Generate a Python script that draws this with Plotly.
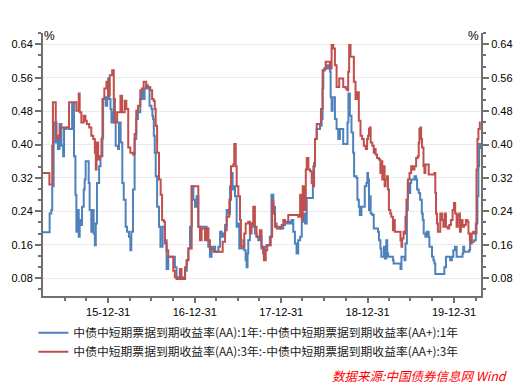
import plotly.graph_objects as go

# ---------------- data ----------------
blue_dates = [
    "2015-03-31", "2015-04-25", "2015-04-28", "2015-05-05", "2015-05-09", "2015-05-15", "2015-05-24",
    "2015-05-28", "2015-06-02", "2015-06-09", "2015-06-17", "2015-06-24", "2015-06-28", "2015-07-08",
    "2015-07-19", "2015-07-26", "2015-08-01", "2015-08-07", "2015-08-09", "2015-08-15", "2015-08-19",
    "2015-08-23", "2015-08-29", "2015-09-02", "2015-09-06", "2015-09-12", "2015-09-19", "2015-09-23",
    "2015-09-27", "2015-10-07", "2015-10-10", "2015-10-14", "2015-10-21", "2015-10-26", "2015-10-31",
    "2015-11-05", "2015-11-09", "2015-11-14", "2015-11-23", "2015-11-29", "2015-12-07", "2015-12-10",
    "2015-12-17", "2015-12-21", "2015-12-27", "2015-12-31", "2016-01-04", "2016-01-10", "2016-01-14",
    "2016-01-21", "2016-01-24", "2016-01-28", "2016-02-01", "2016-02-11", "2016-02-15", "2016-02-22",
    "2016-02-29", "2016-03-06", "2016-03-14", "2016-03-20", "2016-03-28", "2016-04-03", "2016-04-07",
    "2016-04-14", "2016-04-21", "2016-04-28", "2016-05-05", "2016-05-15", "2016-05-22", "2016-05-26",
    "2016-06-02", "2016-06-09", "2016-06-16", "2016-06-23", "2016-07-01", "2016-07-05", "2016-07-08",
    "2016-07-11", "2016-07-15", "2016-07-19", "2016-07-25", "2016-08-02", "2016-08-08", "2016-08-17",
    "2016-08-27", "2016-09-03", "2016-09-10", "2016-09-24", "2016-10-08", "2016-10-15", "2016-11-13",
    "2016-11-20", "2016-11-27", "2016-12-04", "2016-12-11", "2016-12-18", "2016-12-25", "2017-01-01",
    "2017-01-08", "2017-01-15", "2017-02-19", "2017-02-26", "2017-03-05", "2017-03-12", "2017-03-27",
    "2017-04-10", "2017-04-17", "2017-04-24", "2017-05-01", "2017-05-08", "2017-05-15", "2017-05-22",
    "2017-05-29", "2017-06-02", "2017-06-09", "2017-06-12", "2017-06-19", "2017-06-26", "2017-06-30",
    "2017-07-07", "2017-07-17", "2017-07-24", "2017-07-28", "2017-08-03", "2017-08-07", "2017-08-11",
    "2017-08-14", "2017-08-21", "2017-08-28", "2017-09-04", "2017-09-11", "2017-09-18", "2017-09-25",
    "2017-10-02", "2017-10-09", "2017-10-16", "2017-10-23", "2017-10-30", "2017-11-13", "2017-11-20",
    "2017-11-25", "2017-11-28", "2017-12-05", "2017-12-12", "2017-12-26", "2018-01-09", "2018-01-16",
    "2018-01-30", "2018-02-06", "2018-02-13", "2018-02-20", "2018-02-27", "2018-03-06", "2018-03-13",
    "2018-03-21", "2018-03-28", "2018-04-04", "2018-04-11", "2018-04-18", "2018-05-09", "2018-05-14",
    "2018-05-16", "2018-05-23", "2018-05-30", "2018-06-13", "2018-06-20", "2018-06-24", "2018-06-27",
    "2018-07-04", "2018-07-11", "2018-07-18", "2018-07-25", "2018-07-28", "2018-08-01", "2018-08-05",
    "2018-08-15", "2018-08-22", "2018-08-29", "2018-09-05", "2018-09-12", "2018-09-19", "2018-10-03",
    "2018-10-07", "2018-10-11", "2018-10-17", "2018-10-24", "2018-10-31", "2018-11-04", "2018-11-14",
    "2018-11-18", "2018-11-24", "2018-11-28", "2018-12-05", "2018-12-16", "2018-12-19", "2018-12-26",
    "2018-12-30", "2019-01-02", "2019-01-06", "2019-01-09", "2019-01-13", "2019-01-20", "2019-01-26",
    "2019-02-09", "2019-02-13", "2019-02-17", "2019-02-23", "2019-02-27", "2019-03-06", "2019-03-10",
    "2019-03-14", "2019-03-20", "2019-03-24", "2019-03-28", "2019-04-10", "2019-04-17", "2019-04-20",
    "2019-05-15", "2019-05-19", "2019-05-23", "2019-06-05", "2019-06-09", "2019-06-15", "2019-06-19",
    "2019-06-23", "2019-06-29", "2019-07-03", "2019-07-17", "2019-07-24", "2019-07-28", "2019-08-04",
    "2019-08-10", "2019-08-17", "2019-08-21", "2019-08-25", "2019-09-01", "2019-09-07", "2019-09-15",
    "2019-09-18", "2019-09-29", "2019-10-05", "2019-10-09", "2019-10-13", "2019-11-13", "2019-11-20",
    "2019-11-27", "2019-12-11", "2019-12-15", "2019-12-22", "2019-12-28", "2020-01-04", "2020-01-11",
    "2020-02-05", "2020-02-08", "2020-02-12", "2020-03-04", "2020-03-08", "2020-03-25", "2020-04-01",
    "2020-04-08", "2020-04-12", "2020-04-15", "2020-04-22",
]
blue_values = [
    0.190, 0.190, 0.235, 0.243, 0.300, 0.453, 0.405,
    0.421, 0.389, 0.449, 0.397, 0.372, 0.437, 0.441,
    0.437, 0.437, 0.497, 0.497, 0.372, 0.280, 0.191,
    0.243, 0.179, 0.219, 0.207, 0.251, 0.292, 0.316,
    0.360, 0.360, 0.308, 0.243, 0.191, 0.243, 0.187,
    0.159, 0.211, 0.308, 0.348, 0.372, 0.417, 0.509,
    0.513, 0.493, 0.513, 0.558, 0.509, 0.485, 0.453,
    0.477, 0.509, 0.453, 0.397, 0.389, 0.453, 0.405,
    0.308, 0.268, 0.203, 0.191, 0.179, 0.147, 0.191,
    0.292, 0.413, 0.461, 0.477, 0.509, 0.530, 0.509,
    0.534, 0.542, 0.534, 0.493, 0.485, 0.469, 0.461,
    0.421, 0.380, 0.324, 0.251, 0.203, 0.155, 0.203,
    0.163, 0.102, 0.131, 0.131, 0.106, 0.082, 0.082,
    0.098, 0.123, 0.151, 0.203, 0.300, 0.268, 0.251,
    0.276, 0.203, 0.199, 0.155, 0.131, 0.155, 0.143,
    0.155, 0.191, 0.179, 0.187, 0.207, 0.243, 0.235,
    0.300, 0.332, 0.292, 0.300, 0.276, 0.203, 0.211,
    0.151, 0.151, 0.171, 0.147, 0.123, 0.106, 0.139,
    0.171, 0.211, 0.207, 0.203, 0.187, 0.179, 0.171,
    0.179, 0.151, 0.139, 0.155, 0.159, 0.179, 0.280,
    0.280, 0.251, 0.211, 0.203, 0.199, 0.207, 0.211,
    0.215, 0.211, 0.219, 0.191, 0.163, 0.139, 0.171,
    0.179, 0.215, 0.235, 0.211, 0.272, 0.272, 0.332,
    0.348, 0.413, 0.437, 0.445, 0.461, 0.534, 0.578,
    0.582, 0.590, 0.582, 0.574, 0.513, 0.481, 0.513,
    0.461, 0.437, 0.413, 0.437, 0.437, 0.401, 0.401,
    0.453, 0.522, 0.469, 0.429, 0.380, 0.324, 0.320,
    0.268, 0.251, 0.231, 0.251, 0.251, 0.300, 0.308,
    0.332, 0.316, 0.243, 0.276, 0.235, 0.231, 0.199,
    0.199, 0.191, 0.171, 0.151, 0.131, 0.131, 0.155,
    0.127, 0.171, 0.139, 0.131, 0.131, 0.123, 0.115,
    0.115, 0.102, 0.131, 0.123, 0.163, 0.243, 0.308,
    0.284, 0.308, 0.316, 0.324, 0.316, 0.292, 0.284,
    0.268, 0.235, 0.219, 0.187, 0.179, 0.191, 0.179,
    0.155, 0.131, 0.123, 0.115, 0.090, 0.090, 0.106,
    0.131, 0.131, 0.123, 0.131, 0.147, 0.155, 0.131,
    0.139, 0.155, 0.143, 0.147, 0.167, 0.171, 0.211,
    0.276, 0.348, 0.401, 0.389,
]

red_dates = [
    "2015-03-31", "2015-04-25", "2015-04-27", "2015-05-07", "2015-05-09", "2015-05-12", "2015-05-22",
    "2015-05-24", "2015-05-27", "2015-06-02", "2015-06-06", "2015-06-11", "2015-07-17", "2015-07-19",
    "2015-08-15", "2015-08-19", "2015-08-27", "2015-08-29", "2015-09-02", "2015-09-09", "2015-09-19",
    "2015-09-26", "2015-10-02", "2015-10-12", "2015-10-21", "2015-10-29", "2015-11-05", "2015-11-09",
    "2015-11-12", "2015-11-19", "2015-11-26", "2015-12-03", "2015-12-07", "2015-12-15", "2015-12-24",
    "2015-12-31", "2016-01-07", "2016-01-17", "2016-01-24", "2016-01-28", "2016-02-07", "2016-02-21",
    "2016-02-28", "2016-03-10", "2016-03-17", "2016-03-25", "2016-04-03", "2016-04-14", "2016-04-21",
    "2016-04-28", "2016-05-05", "2016-05-15", "2016-05-22", "2016-05-29", "2016-06-09", "2016-06-20",
    "2016-06-26", "2016-07-04", "2016-07-10", "2016-07-15", "2016-07-19", "2016-07-25", "2016-08-02",
    "2016-08-09", "2016-08-15", "2016-08-22", "2016-08-27", "2016-09-03", "2016-09-10", "2016-09-28",
    "2016-10-01", "2016-10-08", "2016-10-15", "2016-10-29", "2016-11-05", "2016-11-13", "2016-11-20",
    "2016-11-27", "2016-12-04", "2016-12-11", "2016-12-18", "2017-01-08", "2017-01-15", "2017-01-22",
    "2017-01-29", "2017-02-05", "2017-02-12", "2017-02-19", "2017-02-26", "2017-03-05", "2017-03-12",
    "2017-03-20", "2017-04-24", "2017-04-28", "2017-05-08", "2017-05-15", "2017-05-26", "2017-06-02",
    "2017-06-12", "2017-06-16", "2017-06-22", "2017-06-26", "2017-07-03", "2017-07-10", "2017-07-14",
    "2017-07-24", "2017-07-28", "2017-08-03", "2017-08-14", "2017-08-21", "2017-08-28", "2017-09-04",
    "2017-09-11", "2017-09-18", "2017-09-25", "2017-10-02", "2017-10-09", "2017-10-16", "2017-10-19",
    "2017-10-27", "2017-11-02", "2017-11-13", "2017-11-17", "2017-11-23", "2017-11-28", "2017-12-05",
    "2017-12-12", "2017-12-26", "2018-01-02", "2018-01-09", "2018-01-16", "2018-01-30", "2018-03-13",
    "2018-03-21", "2018-03-28", "2018-04-01", "2018-04-08", "2018-04-14", "2018-04-18", "2018-04-25",
    "2018-05-02", "2018-05-09", "2018-05-14", "2018-05-19", "2018-05-23", "2018-05-30", "2018-06-13",
    "2018-06-17", "2018-06-24", "2018-07-01", "2018-07-07", "2018-07-18", "2018-07-25", "2018-08-01",
    "2018-08-08", "2018-08-15", "2018-08-22", "2018-08-29", "2018-09-02", "2018-09-12", "2018-09-19",
    "2018-09-30", "2018-10-06", "2018-10-10", "2018-10-14", "2018-10-20", "2018-10-28", "2018-11-03",
    "2018-11-10", "2018-11-17", "2018-11-24", "2018-12-01", "2018-12-08", "2018-12-15", "2018-12-23",
    "2018-12-29", "2019-01-02", "2019-01-06", "2019-01-09", "2019-01-13", "2019-01-20", "2019-01-26",
    "2019-01-30", "2019-02-03", "2019-02-09", "2019-02-17", "2019-02-23", "2019-02-27", "2019-03-03",
    "2019-03-09", "2019-03-13", "2019-03-17", "2019-03-23", "2019-03-27", "2019-03-31", "2019-04-06",
    "2019-04-10", "2019-04-17", "2019-04-21", "2019-04-25", "2019-05-15", "2019-05-19", "2019-05-23",
    "2019-05-26", "2019-06-01", "2019-06-05", "2019-06-09", "2019-06-13", "2019-06-19", "2019-06-26",
    "2019-07-03", "2019-07-10", "2019-07-17", "2019-07-24", "2019-07-31", "2019-08-04", "2019-08-07",
    "2019-08-11", "2019-08-14", "2019-08-18", "2019-08-24", "2019-08-28", "2019-09-01", "2019-09-07",
    "2019-09-15", "2019-10-09", "2019-10-13", "2019-10-16", "2019-10-20", "2019-10-24", "2019-10-30",
    "2019-11-03", "2019-11-10", "2019-11-16", "2019-11-21", "2019-11-27", "2019-12-04", "2019-12-11",
    "2019-12-18", "2019-12-25", "2019-12-31", "2020-01-05", "2020-01-11", "2020-01-16", "2020-01-22",
    "2020-01-25", "2020-01-29", "2020-02-05", "2020-02-12", "2020-02-19", "2020-02-26", "2020-03-01",
    "2020-03-07", "2020-03-11", "2020-03-15", "2020-03-21", "2020-03-29", "2020-04-04", "2020-04-08",
    "2020-04-12", "2020-04-18", "2020-04-22",
]
red_values = [
    0.332, 0.332, 0.304, 0.304, 0.397, 0.501, 0.501,
    0.453, 0.413, 0.413, 0.421, 0.441, 0.441, 0.501,
    0.501, 0.481, 0.481, 0.522, 0.477, 0.453, 0.469,
    0.457, 0.449, 0.441, 0.421, 0.413, 0.380, 0.340,
    0.405, 0.364, 0.372, 0.413, 0.509, 0.534, 0.550,
    0.517, 0.566, 0.578, 0.509, 0.453, 0.477, 0.517,
    0.477, 0.505, 0.485, 0.393, 0.380, 0.376, 0.425,
    0.481, 0.493, 0.530, 0.534, 0.550, 0.538, 0.538,
    0.530, 0.509, 0.505, 0.485, 0.445, 0.380, 0.316,
    0.280, 0.219, 0.215, 0.171, 0.147, 0.131, 0.131,
    0.098, 0.082, 0.078, 0.102, 0.078, 0.078, 0.106,
    0.123, 0.151, 0.151, 0.300, 0.300, 0.203, 0.171,
    0.199, 0.199, 0.171, 0.199, 0.171, 0.151, 0.151,
    0.143, 0.143, 0.167, 0.195, 0.227, 0.268, 0.348,
    0.352, 0.401, 0.348, 0.300, 0.276, 0.219, 0.155,
    0.155, 0.187, 0.211, 0.215, 0.187, 0.211, 0.251,
    0.203, 0.179, 0.179, 0.195, 0.155, 0.147, 0.123,
    0.147, 0.159, 0.159, 0.179, 0.264, 0.235, 0.203,
    0.199, 0.199, 0.207, 0.219, 0.215, 0.231, 0.227,
    0.280, 0.219, 0.300, 0.243, 0.340, 0.368, 0.340,
    0.336, 0.308, 0.300, 0.356, 0.413, 0.449, 0.449,
    0.485, 0.578, 0.582, 0.598, 0.598, 0.582, 0.638,
    0.630, 0.590, 0.538, 0.538, 0.558, 0.558, 0.538,
    0.534, 0.530, 0.574, 0.638, 0.610, 0.610, 0.550,
    0.509, 0.525, 0.457, 0.421, 0.413, 0.397, 0.389,
    0.413, 0.421, 0.437, 0.441, 0.405, 0.397, 0.380,
    0.389, 0.376, 0.368, 0.364, 0.332, 0.360, 0.316,
    0.348, 0.300, 0.316, 0.324, 0.292, 0.243, 0.235,
    0.227, 0.195, 0.219, 0.191, 0.191, 0.171, 0.155,
    0.175, 0.191, 0.187, 0.227, 0.268, 0.316, 0.332,
    0.348, 0.340, 0.348, 0.368, 0.372, 0.405, 0.437,
    0.441, 0.413, 0.393, 0.348, 0.332, 0.352, 0.352,
    0.328, 0.332, 0.284, 0.235, 0.211, 0.191, 0.191,
    0.235, 0.219, 0.203, 0.235, 0.203, 0.199, 0.207,
    0.219, 0.243, 0.260, 0.235, 0.203, 0.231, 0.235,
    0.191, 0.219, 0.203, 0.207, 0.219, 0.215, 0.187,
    0.171, 0.163, 0.187, 0.191, 0.187, 0.340, 0.413,
    0.437, 0.453, 0.453,
]

series_names = [
    "中债中短期票据到期收益率(AA):1年:-中债中短期票据到期收益率(AA+):1年",
    "中债中短期票据到期收益率(AA):3年:-中债中短期票据到期收益率(AA+):3年",
]
x_tick_dates = ["2015-12-31", "2016-12-31", "2017-12-31", "2018-12-31", "2019-12-31"]
x_minor_dates = [
    "2015-06-30", "2015-09-30", "2016-03-31", "2016-06-30", "2016-09-30",
    "2017-03-31", "2017-06-30", "2017-09-30", "2018-03-31", "2018-06-30",
    "2018-09-30", "2019-03-31", "2019-06-30", "2019-09-30", "2020-03-31",
]
y_tick_values = [0.08, 0.16, 0.24, 0.32, 0.40, 0.48, 0.56, 0.64]
y_tick_labels = ["0.08", "0.16", "0.24", "0.32", "0.40", "0.48", "0.56", "0.64"]
x_range = ["2015-03-31", "2020-04-23"]
y_range = [0.0373, 0.667]
source_text = "数据来源:中国债券信息网 Wind"

# ---------------- styling ----------------
BLUE = "#4F81BD"
RED = "#C0504D"
AXIS = "#707070"
GRID = "#EBEBEB"
TICKFONT = dict(family="Liberation Sans, Arial, sans-serif", size=11, color="#000000")
CJK = "Noto Sans CJK SC, Microsoft YaHei, sans-serif"

fig = go.Figure()
fig.add_trace(go.Scatter(x=blue_dates, y=blue_values, mode="lines", name=series_names[0],
                         line=dict(color=BLUE, width=2, shape="hv")))
fig.add_trace(go.Scatter(x=red_dates, y=red_values, mode="lines", name=series_names[1],
                         line=dict(color=RED, width=2, shape="hv")))
# invisible copy on the right-hand axis so that axis is drawn
fig.add_trace(go.Scatter(x=red_dates, y=red_values, mode="lines", yaxis="y2",
                         line=dict(color="rgba(0,0,0,0)", width=0), showlegend=False,
                         hoverinfo="skip"))

yaxis_common = dict(
    range=y_range, tickmode="array", tickvals=y_tick_values, ticktext=y_tick_labels,
    ticks="outside", ticklen=6, tickwidth=2, tickcolor=AXIS,
    showline=True, linecolor=AXIS, linewidth=2, tickfont=TICKFONT,
    zeroline=False, automargin=False,
    minor=dict(tickmode="linear", tick0=0.08, dtick=0.08 / 3, ticks="outside",
               ticklen=3, tickwidth=2, tickcolor=AXIS, showgrid=False),
)

fig.update_layout(
    width=524, height=385,
    margin=dict(l=43, r=43, t=33, b=89, autoexpand=False),
    paper_bgcolor="white", plot_bgcolor="white",
    showlegend=True,
    legend=dict(orientation="v", x=-0.022, y=-0.085, xanchor="left", yanchor="top",
                font=dict(family=CJK, size=11.8, color="#1a1a1a"),
                bgcolor="rgba(0,0,0,0)", tracegroupgap=0, itemwidth=30),
    xaxis=dict(
        type="date", range=x_range, tickmode="array", tickvals=x_tick_dates,
        tickformat="%y-%m-%d", ticks="outside", ticklen=5, tickwidth=2, tickcolor=AXIS,
        showline=True, linecolor=AXIS, linewidth=2, showgrid=False, tickfont=TICKFONT,
        automargin=False,
        minor=dict(tickmode="array", tickvals=x_minor_dates, ticks="outside", ticklen=3,
                   tickwidth=2, tickcolor=AXIS, showgrid=False),
    ),
    yaxis=dict(**yaxis_common, side="left", showgrid=True, gridcolor=GRID, gridwidth=1),
    yaxis2=dict(**yaxis_common, side="right", overlaying="y", showgrid=False),
    annotations=[
        dict(text="%", xref="paper", yref="paper", x=0.0148, y=0.989, showarrow=False,
             font=dict(family="Liberation Sans, Arial", size=12, color="#000"),
             xanchor="center", yanchor="middle"),
        dict(text="%", xref="paper", yref="paper", x=0.982, y=0.989, showarrow=False,
             font=dict(family="Liberation Sans, Arial", size=12, color="#000"),
             xanchor="center", yanchor="middle"),
        dict(text=source_text, xref="paper", yref="paper", x=1.066, y=-0.304,
             showarrow=False, xanchor="right", yanchor="middle",
             font=dict(family=CJK, size=12.5, color="#FF0000", style="italic")),
    ],
)

fig.write_html("out.html", config={"displayModeBar": False},
               post_script="document.body.style.margin='0';")
